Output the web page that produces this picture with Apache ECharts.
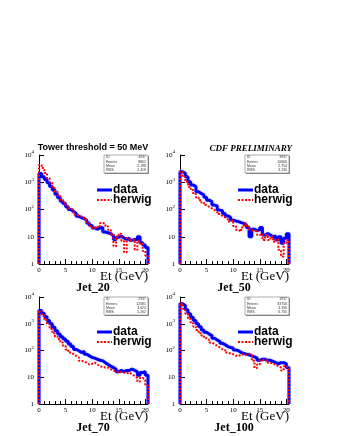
<!DOCTYPE html>
<html>
<head>
<meta charset="utf-8">
<script src="https://cdn.jsdelivr.net/npm/echarts@6/dist/echarts.min.js"></script>
<style>
  html, body { margin: 0; padding: 0; background: #fff; }
  #main { width: 337px; height: 436px; }
</style>
</head>
<body>
<div id="main"></div>
<script>
// bins of 0.5 GeV from 0 to 20.5
var binWidth = 0.5;
var xTicks = [0, 5, 10, 15, 20];
var yTicks = [1, 10, 100, 1000, 10000];

var jet20Data = [2100, 1600, 1250, 950, 700, 520, 360, 270, 200, 165, 125, 100, 85, 72, 56, 50, 47, 40, 31, 26,
  21, 19, 21, 22, 15, 14, 13, 11, 8, 9.5, 10.5, 9, 8, 9, 7.5, 8, 8, 10, 6, 5, 4];
var jet20Herwig = [4300, 3300, 2200, 1400, 950, 620, 450, 310, 230, 180, 135, 110, 95, 66, 60, 55, 50, 42, 33, 25,
  21, 20, 25, 32, 30, 24, 18, 13, 4.5, 10, 13, 7, 2.7, 9, 7, 8, 3.3, 7, 5.5, 3, 2];

var jet50Data = [2450, 2120, 1600, 1050, 790, 690, 450, 390, 340, 280, 220, 195, 145, 135, 95, 90, 72, 58, 52, 41,
  38, 36, 33, 31, 27, 22, 10, 19, 17, 18, 22, 11.5, 13, 11.5, 10, 10.6, 7.6, 10, 5.8, 8.8, 13];
var jet50Herwig = [2450, 1600, 1050, 690, 520, 370, 280, 220, 180, 145, 125, 110, 95, 83, 68, 58, 52, 44, 36, 41,
  25, 18, 15.5, 22, 31, 24, 18, 15.5, 18, 11.5, 13, 7.6, 11.5, 7.6, 10, 6.6, 8, 3.3, 1.9, 5.8, 7.6];

var jet70Data = [3140, 2490, 1860, 1320, 990, 740, 550, 410, 330, 270, 220, 175, 140, 110, 98, 84, 93, 73, 63, 55,
  52, 47, 43, 41, 35, 30, 26, 23, 20, 16, 18, 16, 18, 18, 20, 18, 16, 12, 15, 16, 12];
var jet70Herwig = [3000, 2050, 1400, 990, 640, 440, 330, 270, 200, 150, 110, 84, 73, 63, 55, 41, 39, 35, 30, 32,
  35, 30, 26, 24, 23, 23, 20, 18, 16, 15, 16, 15, 14, 15, 13, 11, 9.5, 7, 9.5, 8, 5];

var jet100Data = [5600, 4850, 3340, 2350, 1760, 1320, 990, 780, 590, 480, 410, 360, 290, 245, 220, 185, 165, 140, 130, 125,
  105, 98, 84, 77, 73, 69, 63, 58, 52, 43, 47, 47, 43, 43, 39, 35, 32, 35, 35, 32, 23];
var jet100Herwig = [5900, 3630, 2350, 1520, 1050, 780, 590, 440, 360, 290, 245, 200, 175, 150, 130, 110, 105, 84, 77, 73,
  63, 63, 69, 73, 69, 77, 69, 41, 22, 30, 43, 43, 43, 35, 32, 30, 26, 23, 18, 26, 23];

var panelNames = ['Jet_20', 'Jet_50', 'Jet_70', 'Jet_100'];
var statIds = ['4937', '3937', '2937', '1937'];
var statEntries = ['8862', '10666', '12081', '33756'];
var statMeans = ['2.198', '2.754', '3.024', '3.336'];
var statRms = ['2.416', '4.130', '5.262', '6.735'];

var dataSets = [jet20Data, jet50Data, jet70Data, jet100Data];
var herwigSets = [jet20Herwig, jet50Herwig, jet70Herwig, jet100Herwig];

// panel boxes (pixels)
var panels = [
  { left: 39, top: 155, width: 109, height: 109 },
  { left: 180, top: 155, width: 109, height: 109 },
  { left: 39, top: 297, width: 109, height: 107 },
  { left: 180, top: 297, width: 109, height: 107 }
];

var SERIF = '"Liberation Serif", "DejaVu Serif", serif';
var SANS = '"Liberation Sans", Arial, sans-serif';

// turn bin contents into step outline points
function steps(vals) {
  var pts = [[0, 1]];
  for (var i = 0; i < vals.length; i++) {
    pts.push([i * binWidth, vals[i]]);
  }
  var end = vals.length * binWidth;
  pts.push([end, vals[vals.length - 1]]);
  pts.push([end, 1]);
  return pts;
}

function yLabel(v) {
  var p = Math.round(Math.log(v) / Math.LN10);
  if (p === 0) return '1';
  if (p === 1) return '10';
  return '10{s|' + p + '}';
}

var grids = [], xAxes = [], yAxes = [], series = [], graphics = [];

panels.forEach(function (p, k) {
  grids.push({ left: p.left, top: p.top, width: p.width, height: p.height });
  xAxes.push({
    type: 'value', gridIndex: k, min: 0, max: 20.5, interval: 5,
    axisLine: { lineStyle: { color: '#000', width: 1 } },
    axisTick: { inside: true, length: 5, lineStyle: { color: '#000' } },
    minorTick: { show: true, splitNumber: 5, length: 3, lineStyle: { color: '#000' } },
    splitLine: { show: false },
    axisLabel: {
      color: '#000', fontFamily: SERIF, fontSize: 7, margin: 3,
      showMaxLabel: false,
      formatter: function (v) { return xTicks.indexOf(v) >= 0 ? String(v) : ''; }
    }
  });
  yAxes.push({
    type: 'log', gridIndex: k, min: 1, max: 10000, logBase: 10,
    axisLine: { show: true, lineStyle: { color: '#000', width: 1 } },
    axisTick: { show: true, inside: true, length: 5, lineStyle: { color: '#000' } },
    splitLine: { show: false },
    axisLabel: {
      color: '#000', fontFamily: SERIF, fontSize: 7, margin: 5,
      formatter: function (v) { return yTicks.indexOf(Math.round(v)) >= 0 ? yLabel(v) : ''; },
      rich: { s: { fontFamily: SERIF, fontSize: 5, padding: [0, 0, 6, 0] } }
    }
  });
  series.push({
    name: 'data', type: 'line', xAxisIndex: k, yAxisIndex: k, step: 'end',
    showSymbol: false, animation: false, data: steps(dataSets[k]),
    lineStyle: { color: '#0000ff', width: 3, shadowColor: 'rgba(120,140,255,0.6)', shadowBlur: 2 }
  });
  series.push({
    name: 'herwig', type: 'line', xAxisIndex: k, yAxisIndex: k, step: 'end',
    showSymbol: false, animation: false, data: steps(herwigSets[k]),
    lineStyle: { color: '#ff0000', width: 2, type: [2, 1.5] }
  });

  // legend
  var lx = p.left + 58, ly = p.top + 35;
  graphics.push({ type: 'line', shape: { x1: lx, y1: ly, x2: lx + 15, y2: ly }, style: { stroke: '#0000ff', lineWidth: 3 } });
  graphics.push({ type: 'line', shape: { x1: lx, y1: ly + 10, x2: lx + 15, y2: ly + 10 }, style: { stroke: '#ff0000', lineWidth: 2, lineDash: [2, 1.5] } });
  graphics.push({ type: 'text', x: lx + 16, y: ly, style: { text: 'data', font: 'bold 12px ' + SANS, fill: '#000', textVerticalAlign: 'middle' } });
  graphics.push({ type: 'text', x: lx + 16, y: ly + 10, style: { text: 'herwig', font: 'bold 12px ' + SANS, fill: '#000', textVerticalAlign: 'middle' } });

  // stats box
  var bx = p.left + 65, by = p.top, bw = 44, bh = 18;
  graphics.push({ type: 'rect', shape: { x: bx + 1, y: by + 1, width: bw, height: bh }, style: { fill: '#888' } });
  graphics.push({ type: 'rect', shape: { x: bx, y: by, width: bw, height: bh }, style: { fill: '#fff', stroke: '#777', lineWidth: 0.6 } });
  var names = ['ID', 'Entries', 'Mean', 'RMS'];
  var vals = [statIds[k], statEntries[k], statMeans[k], statRms[k]];
  for (var r = 0; r < 4; r++) {
    graphics.push({ type: 'text', x: bx + 2, y: by + 2.3 + r * 4.4, style: { text: names[r], font: '3.5px ' + SANS, fill: '#333', textVerticalAlign: 'middle' } });
    graphics.push({ type: 'text', x: bx + bw - 2, y: by + 2.3 + r * 4.4, style: { text: vals[r], font: '3.5px ' + SANS, fill: '#333', textAlign: 'right', textVerticalAlign: 'middle' } });
  }

  // axis title and panel name
  graphics.push({ type: 'text', x: p.left + p.width, y: p.top + p.height + 13, style: { text: 'Et (GeV)', font: '13px ' + SERIF, fill: '#000', textAlign: 'right', textVerticalAlign: 'middle' } });
  graphics.push({ type: 'text', x: p.left + (k === 3 ? 54 : 54), y: p.top + p.height + 24, style: { text: panelNames[k], font: 'bold 12px ' + SERIF, fill: '#000', textAlign: 'center', textVerticalAlign: 'middle' } });
});

graphics.push({ type: 'text', x: 93, y: 148, style: { text: 'Tower threshold = 50 MeV', font: 'bold 9px ' + SANS, fill: '#000', textAlign: 'center', textVerticalAlign: 'middle' } });
graphics.push({ type: 'text', x: 292, y: 149, style: { text: 'CDF PRELIMINARY', font: 'italic bold 9px ' + SERIF, fill: '#000', textAlign: 'right', textVerticalAlign: 'middle' } });

var myChart = echarts.init(document.getElementById('main'));
var option = {
  animation: false,
  grid: grids,
  xAxis: xAxes,
  yAxis: yAxes,
  series: series,
  graphic: graphics
};
myChart.setOption(option);
</script>
</body>
</html>
